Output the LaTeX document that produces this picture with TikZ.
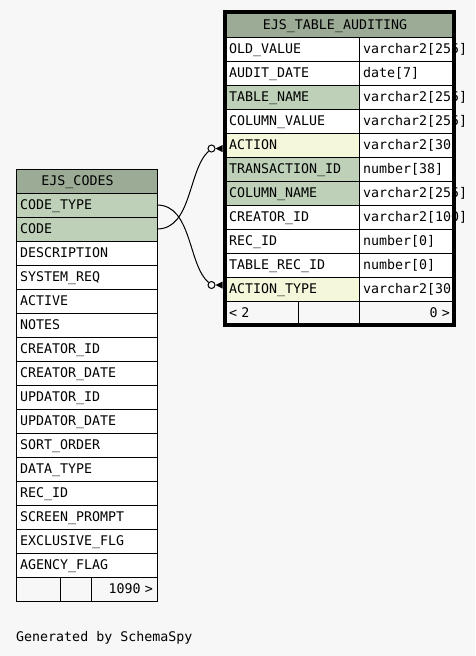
\documentclass[tikz,border=0pt]{standalone}
\usepackage{fontspec}
\setmonofont{DejaVu Sans Mono}
\usepackage{tikz}
\usetikzlibrary{positioning}

\definecolor{hdrgreen}{HTML}{9BAB96}
\definecolor{keygreen}{HTML}{BED1B8}
\definecolor{idxyellow}{HTML}{F4F7DA}
\definecolor{pagegray}{HTML}{F7F7F7}
\newcommand\dbfont{\ttfamily\fontsize{13.3}{16}\selectfont}

\begin{document}
\begin{tikzpicture}[x=1pt, y=-1pt,
    cell/.style={draw, line width=1pt, outer sep=0pt, fill=white, minimum height=24pt,
        inner xsep=4pt, inner ysep=0pt, text height=9.7pt, text depth=0pt,
        text width=#1, align=left, font=\dbfont},
    head/.style={cell=#1, fill=hdrgreen, anchor=north west},
    foot/.style={cell=#1, fill=pagegray},
    headtext/.style={inner sep=0pt, text height=9.7pt, text depth=0pt, font=\dbfont},
    fk/.style={circle, draw, line width=1pt, fill=pagegray, minimum size=7pt, inner sep=0pt}]
    \fill[pagegray] (0,0) rectangle (475,656);
    \useasboundingbox (0,0) rectangle (475,656);

    % EJS_CODES
    \node [head=133pt] (codes-h) at (16,169) {};
    \node [headtext] at ([xshift=-9pt]codes-h.center) {EJS\_CODES};
    \foreach \name/\rowcol [count=\i, remember=\i as \j (initially h)] in
        {CODE\_TYPE/keygreen, CODE/keygreen, DESCRIPTION/white, SYSTEM\_REQ/white,
         ACTIVE/white, NOTES/white, CREATOR\_ID/white, CREATOR\_DATE/white,
         UPDATOR\_ID/white, UPDATOR\_DATE/white, SORT\_ORDER/white, DATA\_TYPE/white,
         REC\_ID/white, SCREEN\_PROMPT/white, EXCLUSIVE\_FLG/white, AGENCY\_FLAG/white}
        \node [cell=133pt, fill=\rowcol, below=0pt of codes-\j] (codes-\i) {\name};
    \node [foot=36pt, below right=0pt of codes-16.south west] (codesf-1) {};
    \node [foot=23pt, right=0pt of codesf-1] (codesf-2) {};
    \node [foot=58pt, align=right, right=0pt of codesf-2] (codesf-3) {1090~>};

    % EJS_TABLE_AUDITING
    \node [head=221pt, minimum height=25pt] (aud-h) at (225,12) {};
    \node [headtext] at ([xshift=-4.5pt]aud-h.center) {EJS\_TABLE\_AUDITING};
    \foreach \name/\type/\rowcol [count=\i, remember=\i as \j (initially h)] in
        {OLD\_VALUE/varchar2[255]/white, AUDIT\_DATE/date[7]/white,
         TABLE\_NAME/varchar2[255]/keygreen, COLUMN\_VALUE/varchar2[255]/white,
         ACTION/varchar2[30]/idxyellow, TRANSACTION\_ID/number[38]/keygreen,
         COLUMN\_NAME/varchar2[255]/keygreen, CREATOR\_ID/varchar2[100]/white,
         REC\_ID/number[0]/white, TABLE\_REC\_ID/number[0]/white,
         ACTION\_TYPE/varchar2[30]/idxyellow}
    {
        \node [cell=126pt, fill=\rowcol, below right=0pt of aud-\j.south west] (aud-\i) {\name};
        \node [cell=87pt, right=0pt of aud-\i] (audt-\i) {\type};
    }
    \node [foot=65pt, below right=0pt of aud-11.south west] (audf-1) {<~2};
    \node [foot=53pt, right=0pt of audf-1] (audf-2) {};
    \node [foot=87pt, align=right, right=0pt of audf-2] (audf-3) {0~>};
    \draw [line width=4pt] (aud-h.north west) rectangle (audf-3.south east);

    % links
    \node [fk] (act) at (211.5,148.5) {};
    \node [fk] (acttype) at (211.5,285) {};
    \draw [line width=1pt] (codes-2.east) .. controls (192,229) and (188,170) .. (act);
    \draw [line width=1pt] (codes-1.east) .. controls (192,205) and (188,265) .. (acttype);
    \fill (act.east) -- ++(7,-3.5) -- ++(0,7) -- cycle;
    \fill (acttype.east) -- ++(7,-3.5) -- ++(0,7) -- cycle;

    \node [headtext, anchor=west] (credit) at (16,637) {Generated by SchemaSpy};
\end{tikzpicture}
\end{document}
